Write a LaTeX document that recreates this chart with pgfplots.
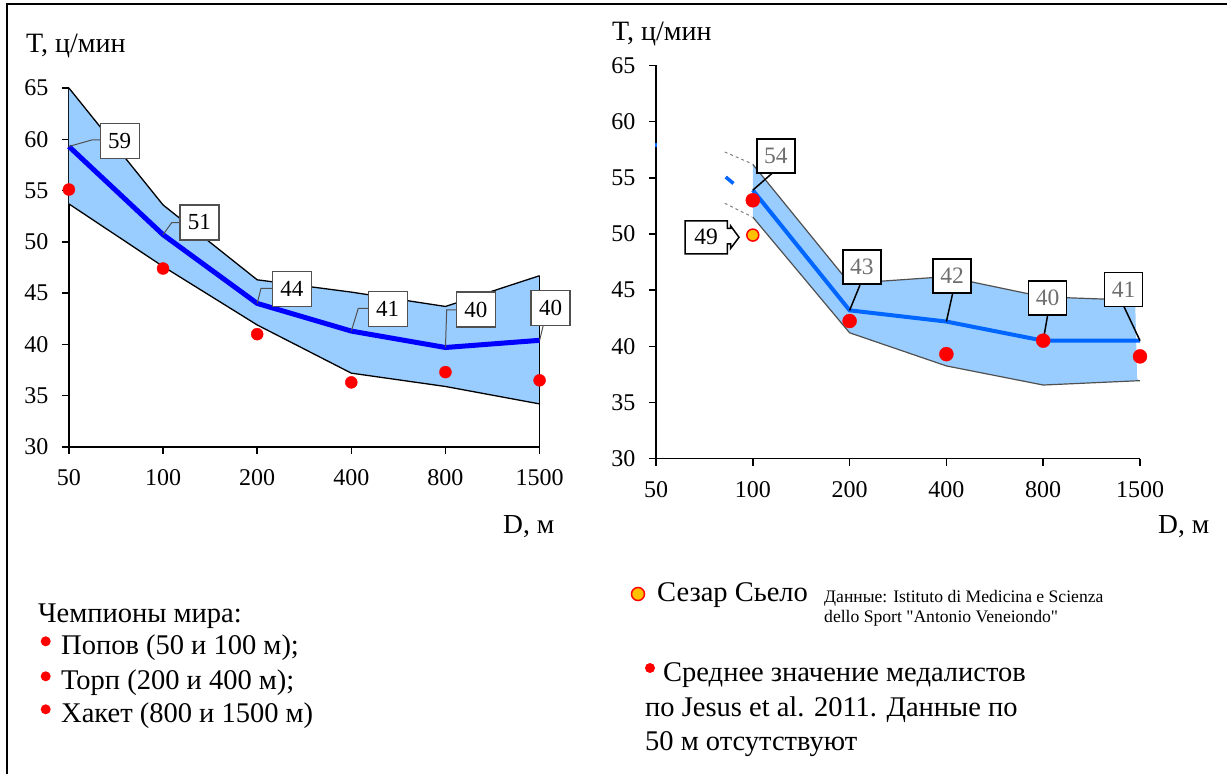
\documentclass[border=0pt]{standalone}
\usepackage{fontspec}
\setmainfont{Liberation Serif}
\newfontfamily\rawserif{Liberation Serif}
\usepackage{pgfplots}
\usepackage{pgfplotstable}
\pgfplotsset{compat=1.18}
\definecolor{fillblue}{RGB}{153,204,255}
\definecolor{lineL}{RGB}{0,0,255}
\definecolor{lineR}{RGB}{0,102,255}
\definecolor{dotred}{RGB}{255,0,0}
\definecolor{dotyel}{RGB}{255,192,0}
\definecolor{edgegray}{RGB}{80,80,80}
\definecolor{boxtext}{RGB}{110,110,110}

\pgfplotstableread{
x up lo mid red
0 65.0 53.7 59.3 55.1
1 53.6 47.6 50.7 47.4
2 46.3 41.9 44.0 41.0
3 45.1 37.2 41.3 36.3
4 43.7 35.9 39.7 37.3
5 46.7 34.2 40.4 36.5
}\leftdata

\pgfplotstableread{
x up lo mid red
1 56.2 51.5 53.9 53.0
2 45.6 41.2 43.2 42.25
3 46.2 38.25 42.2 39.3
4 44.4 36.55 40.5 40.5
5 44.1 36.94 40.5 39.1
}\rightdata

\pgfplotsset{myax/.style={
  scale only axis, xmin=0, xmax=5, ymin=30, ymax=65,
  axis x line*=bottom, axis y line*=left,
  axis line style={-, line width=1.8pt, black},
  xtick={0,...,5}, xticklabels={50,100,200,400,800,1500},
  ytick={30,35,...,65},
  tick align=outside, major tick length=7pt,
  tick style={line width=1.5pt, black},
  ticklabel style={font=\fontsize{24}{24}\selectfont},
  yticklabel style={xshift=-10pt},
  xticklabel style={yshift=-12pt},
  /pgf/number format/assume math mode=true,
  clip=false}}
\tikzset{
  lbox/.style={draw=edgegray, fill=white, line width=1.2pt, minimum width=39pt, minimum height=35pt, inner sep=0pt, font=\fontsize{23}{23}\selectfont},
  rbox/.style={draw=black, fill=white, line width=1.8pt, minimum width=38pt, minimum height=34pt, inner sep=0pt, text=boxtext, font=\fontsize{23.5}{23.5}\selectfont},
}

\begin{document}
\begin{tikzpicture}[x=1pt,y=1pt]
\useasboundingbox (0,0) rectangle (1227,774);
\draw[line width=2.2pt] (7,0) -- (7,770) -- (1227,770);

% ---------------- left panel
\begin{axis}[myax, at={(68.9pt,327pt)}, anchor=south west, width=470.7pt, height=359pt]
\addplot[fill=fillblue, draw=none] coordinates {(0,65)(1,53.6)(2,46.3)(3,45.1)(4,43.7)(5,46.7)(5,34.2)(4,35.9)(3,37.2)(2,41.9)(1,47.6)(0,53.7)} -- cycle;
\addplot[black, line width=1.3pt] table[x=x,y=up] {\leftdata};
\addplot[black, line width=1.3pt] table[x=x,y=lo] {\leftdata};
\addplot[black, line width=1.5pt] coordinates {(5,46.7)(5,30)};
\addplot[lineL, line width=5pt] table[x=x,y=mid] {\leftdata};
\addplot[only marks, mark=*, mark size=6pt, color=dotred] table[x=x,y=red] {\leftdata};
% callouts
\draw[edgegray, line width=1pt] (axis cs:0,59.3) -- (axis cs:0.242,59.93) -- (axis cs:0.54,59.93);
\node[lbox] at (axis cs:0.54,59.85) {59};
\draw[edgegray, line width=1pt] (axis cs:1,50.7) -- (axis cs:1.092,51.87) -- (axis cs:1.387,51.87);
\node[lbox] at (axis cs:1.387,51.89) {51};
\draw[edgegray, line width=1pt] (axis cs:2,44.0) -- (axis cs:2.041,45.47) -- (axis cs:2.368,45.47);
\node[lbox] at (axis cs:2.368,45.43) {44};
\draw[edgegray, line width=1pt] (axis cs:3,41.3) -- (axis cs:3.074,43.52) -- (axis cs:3.386,43.52);
\node[lbox] at (axis cs:3.386,43.48) {41};
\draw[edgegray, line width=1pt] (axis cs:4,39.7) -- (axis cs:4.013,43.36) -- (axis cs:4.322,43.36);
\node[lbox] at (axis cs:4.322,43.4) {40};
\draw[edgegray, line width=1pt] (axis cs:5,40.4) -- (axis cs:5.04,41.9) -- (axis cs:5.116,43.5);
\node[lbox] at (axis cs:5.116,43.55) {40};
\end{axis}

% ---------------- right panel
\begin{axis}[myax, at={(656pt,315.4pt)}, anchor=south west, width=484pt, height=393.1pt]
\addplot[fill=fillblue, draw=none] coordinates {(1,56.2)(2,45.6)(3,46.2)(4,44.4)(4.95,44.1)(4.97,37.1)(5,36.94)(4,36.55)(3,38.25)(2,41.2)(1,51.5)} -- cycle;
\addplot[edgegray, line width=1.2pt] coordinates {(1,56.2)(2,45.6)(3,46.2)(4,44.4)(4.95,44.1)};
\addplot[edgegray, line width=1.2pt] table[x=x,y=lo] {\rightdata};
\addplot[gray, dashed, line width=1pt] coordinates {(0.71,57.3)(0.99,56.26)};
\addplot[gray, dashed, line width=1pt] coordinates {(0.71,52.73)(0.99,51.54)};
\addplot[lineR, line width=3.5pt] coordinates {(0.72,55.07)(0.80,54.5)};
\addplot[lineR, line width=2pt] coordinates {(0,57.7)(0,58.1)};
\addplot[lineR, line width=4pt] table[x=x,y=mid] {\rightdata};
\addplot[only marks, mark=*, mark size=7pt, color=dotred] table[x=x,y=red] {\rightdata};
\addplot[only marks, mark=*, mark size=6pt, draw=dotred, fill=dotyel, line width=1.5pt] coordinates {(1,49.9)};
% callouts
\draw[black, line width=1.5pt] (axis cs:1,53.9) -- (axis cs:1.21,55.48);
\node[rbox] at (axis cs:1.238,56.94) {54};
\draw[black, line width=1.5pt] (axis cs:2,43.2) -- (axis cs:2.107,45.45);
\node[rbox] at (axis cs:2.128,47.08) {43};
\draw[black, line width=1.5pt] (axis cs:3,42.2) -- (axis cs:3.065,44.72);
\node[rbox] at (axis cs:3.06,46.24) {42};
\draw[black, line width=1.5pt] (axis cs:4,40.5) -- (axis cs:4.046,42.78);
\node[rbox] at (axis cs:4.045,44.3) {40};
\draw[black, line width=1.5pt] (axis cs:5,40.5) -- (axis cs:4.835,43.52);
\node[rbox] at (axis cs:4.83,45.05) {41};
\end{axis}

% 49 callout (arrow box)
\draw[black, line width=1.5pt, fill=white] (685,553) -- (727.3,553) -- (727.3,545.7) -- (730.7,545.7) -- (730.7,548) -- (739,536.7) -- (730.7,525.7) -- (730.7,530) -- (727.3,530) -- (727.3,520) -- (685,520) -- cycle;
\node[font=\fontsize{23.5}{23.5}\selectfont] at (706,536.7) {49};

% axis titles
\node[anchor=base west, inner sep=0, font=\fontsize{28}{28}\selectfont] at (26,721) {T, ц/мин};
\node[anchor=base west, inner sep=0, font=\fontsize{28}{28}\selectfont] at (612,733) {T, ц/мин};
\node[anchor=base west, inner sep=0, font=\fontsize{27.5}{27.5}\selectfont] at (503,240) {D, м};
\node[anchor=base west, inner sep=0, font=\fontsize{27.5}{27.5}\selectfont] at (1158,240) {D, м};

% notes
\begin{scope}[every node/.style={anchor=base west, inner sep=0, font=\fontsize{28.5}{28.5}\selectfont}]
\node at (38,151) {Чемпионы мира:};
\node at (61,119) {Попов (50 и 100 м);};
\node at (61,84) {Торп (200 и 400 м);};
\node at (61,51) {Хакет (800 и 1500 м)};
\node at (657,172) {Сезар Сьело};
\node at (663,92) {Среднее значение медалистов};
\node at (645,57) {по Jesus et al. 2011. Данные по};
\node at (645,23) {50 м отсутствуют};
\node[font=\fontsize{17.6}{17.6}\selectfont] at (824,171) {Данные: Istituto di Medicina e Scienza};
\node[font=\fontsize{17.6}{17.6}\rawserif] at (824,151) {dello Sport "Antonio Veneiondo"};
\end{scope}
\fill[dotred] (45.7,132.7) circle (5);
\fill[dotred] (45.7,97.7) circle (5);
\fill[dotred] (45.7,64.7) circle (5);
\fill[dotred] (650,106) circle (5);
\draw[dotred, fill=dotyel, line width=1.5pt] (638,180) circle (6.5);
\end{tikzpicture}
\end{document}
